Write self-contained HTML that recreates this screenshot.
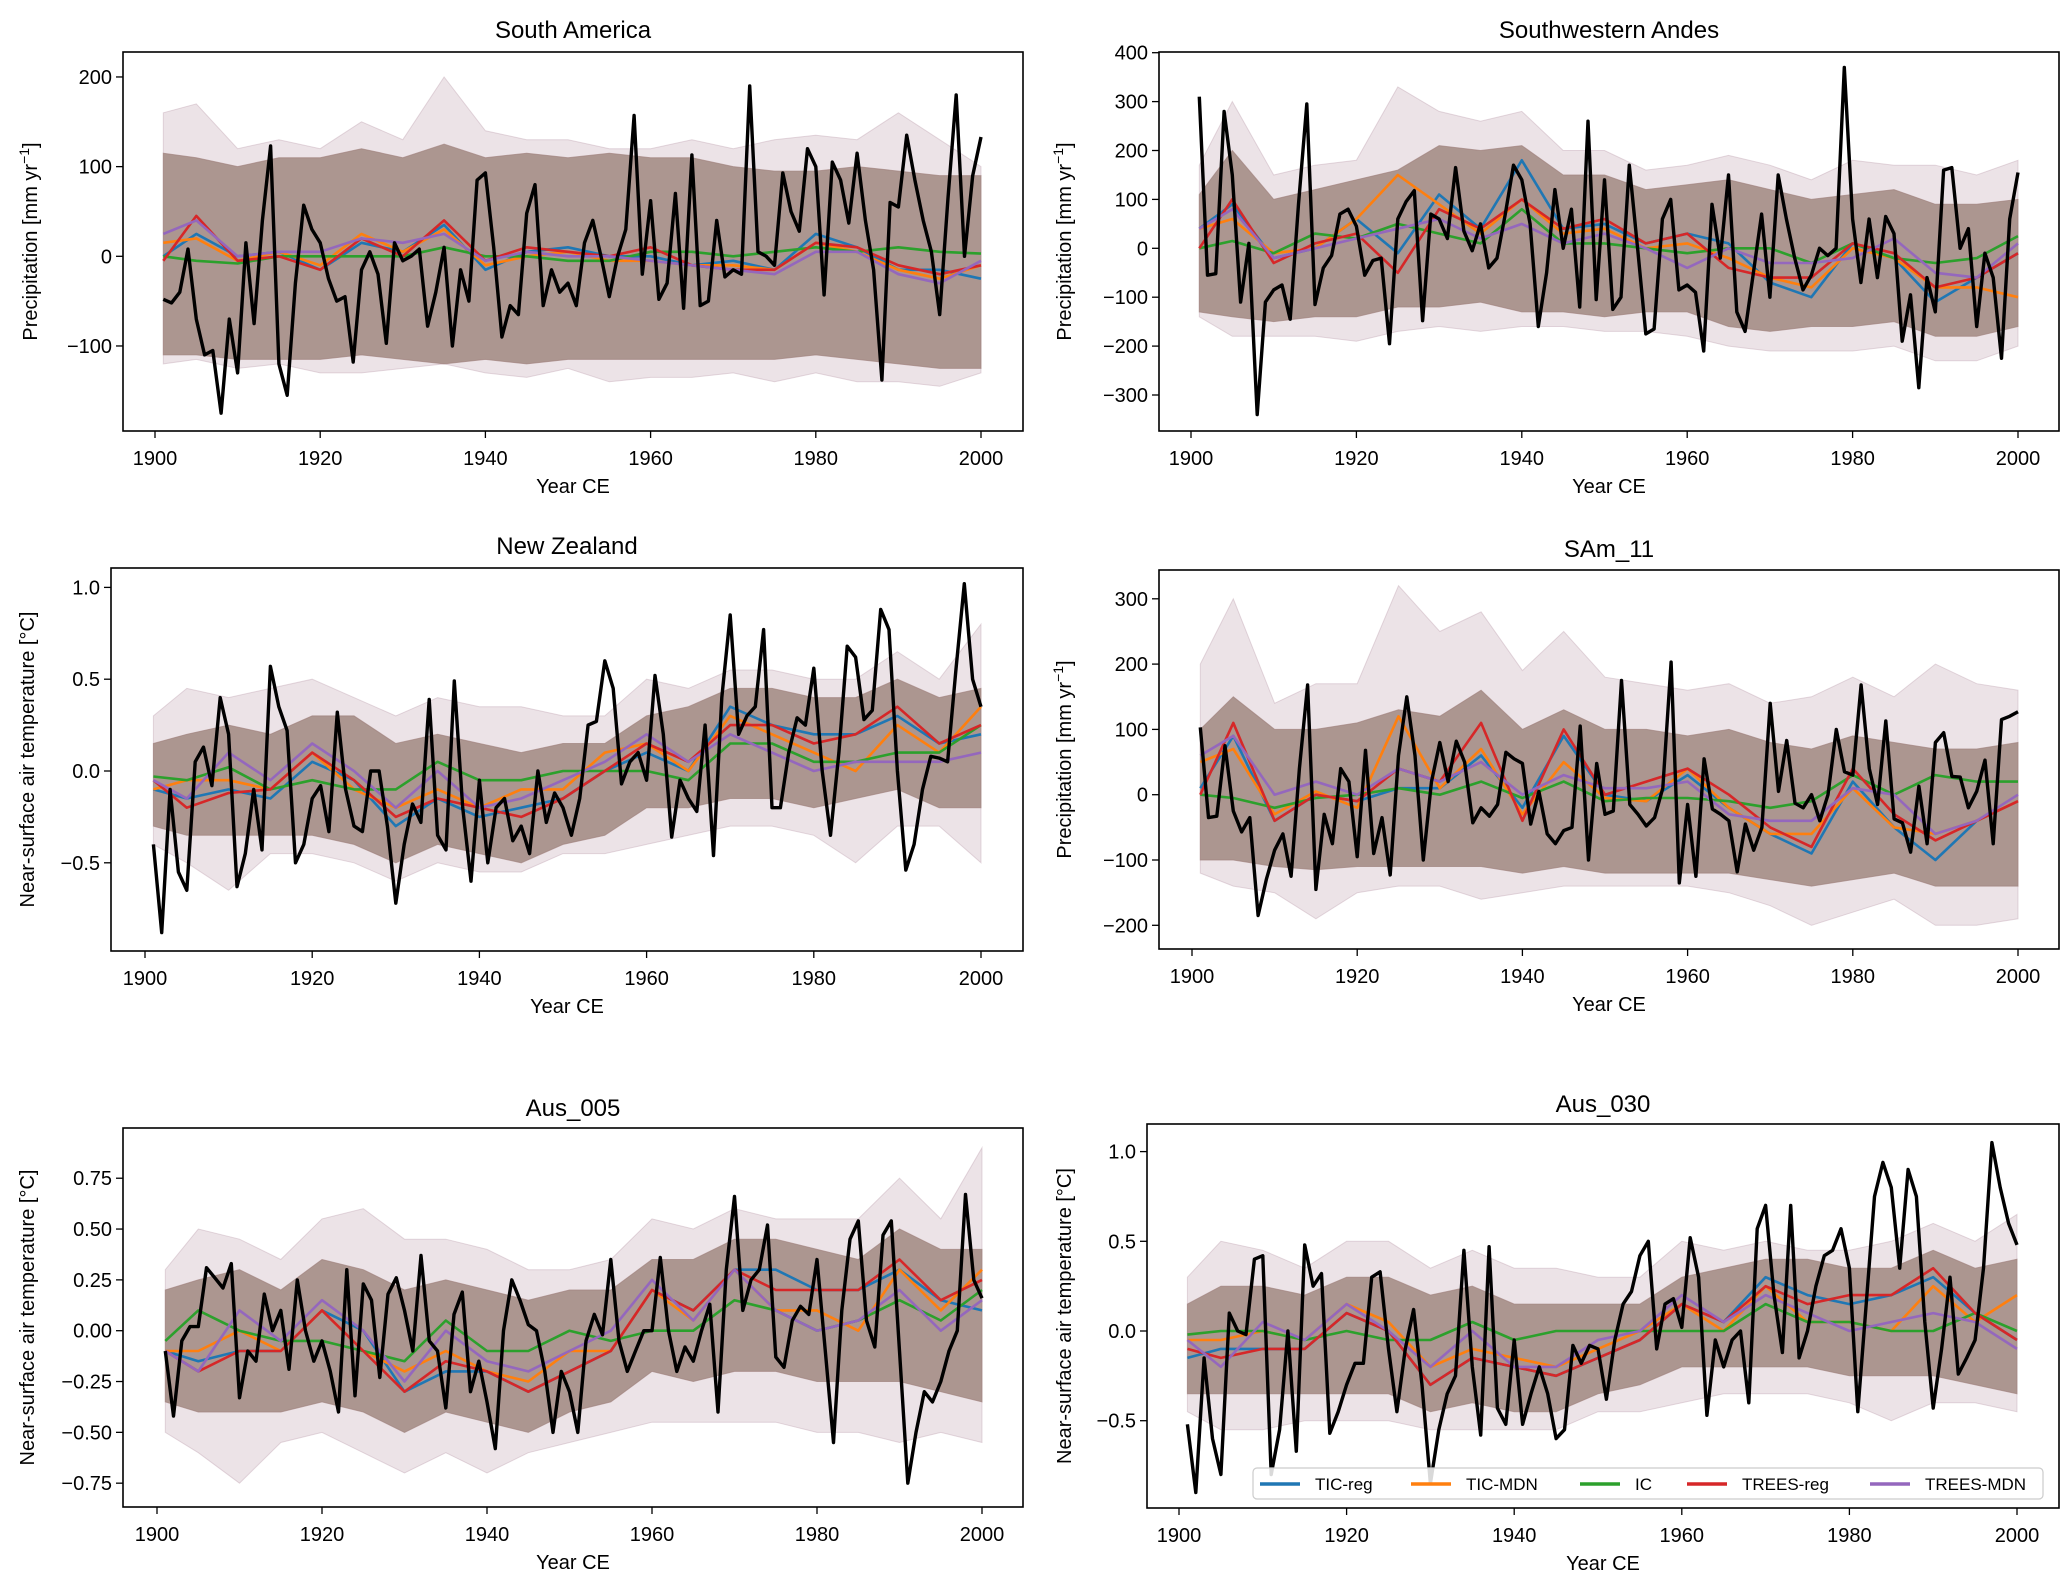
<!DOCTYPE html>
<html><head><meta charset="utf-8">
<style>
html,body{margin:0;padding:0;background:#fff;}
svg{display:block;font-family:"Liberation Sans",Arial,sans-serif;}
</style></head>
<body>
<svg id="fig" width="2067" height="1590" viewBox="0 0 2067 1590" xmlns="http://www.w3.org/2000/svg"></svg>
<script>
// ---------- data ----------
const years = [];
for (let y = 1901; y <= 2000; y++) years.push(y);
const coarseYears = [1901,1905,1910,1915,1920,1925,1930,1935,1940,1945,1950,1955,1960,1965,1970,1975,1980,1985,1990,1995,2000];
const seriesNames = ["TIC-reg","TIC-MDN","IC","TREES-reg","TREES-MDN"];
const seriesColors = ["#1f77b4","#ff7f0e","#2ca02c","#d62728","#9467bd"];

const titles = ["South America","Southwestern Andes","New Zealand","SAm_11","Aus_005","Aus_030"];
const yLabels = ["precip","precip","temp","precip","temp","temp"];
const yTicks = [
  [-100,0,100,200],
  [-300,-200,-100,0,100,200,300,400],
  [-0.5,0,0.5,1.0],
  [-200,-100,0,100,200,300],
  [-0.75,-0.5,-0.25,0,0.25,0.5,0.75],
  [-0.5,0,0.5,1.0]
];
const yTickLabels = [
  ["\u2212100","0","100","200"],
  ["\u2212300","\u2212200","\u2212100","0","100","200","300","400"],
  ["\u22120.5","0.0","0.5","1.0"],
  ["\u2212200","\u2212100","0","100","200","300"],
  ["\u22120.75","\u22120.50","\u22120.25","0.00","0.25","0.50","0.75"],
  ["\u22120.5","0.0","0.5","1.0"]
];
const xTicks = [1900,1920,1940,1960,1980,2000];

// observed (black) series
const obs0 = [-48,-52,-40,8,-70,-110,-105,-175,-70,-130,15,-75,40,123,-120,-155,-30,57,30,15,-25,-50,-45,-118,-15,5,-20,-97,15,-5,0,8,-78,-40,10,-100,-15,-50,85,93,10,-90,-55,-65,48,80,-55,-15,-40,-30,-55,15,40,0,-45,0,30,157,-20,62,-48,-30,70,-58,113,-55,-50,40,-23,-15,-20,190,5,0,-10,93,50,28,120,100,-43,105,85,37,115,40,-15,-138,60,55,135,85,40,5,-65,65,180,0,90,133];
const obs1 = [310,-55,-52,280,150,-110,10,-340,-110,-85,-75,-145,90,295,-115,-40,-15,70,80,45,-55,-25,-20,-195,60,95,118,-148,70,60,20,165,35,-5,50,-40,-20,70,170,140,50,-160,-50,120,0,80,-120,260,-105,140,-125,-100,170,0,-175,-165,60,100,-85,-75,-90,-210,90,-20,150,-130,-170,-50,70,-100,150,60,-20,-85,-55,0,-15,0,370,60,-70,60,-60,65,30,-190,-95,-285,-60,-130,160,165,0,40,-160,-10,-60,-225,60,155];
const obs2 = [-0.4,-0.88,-0.1,-0.55,-0.65,0.05,0.13,-0.08,0.4,0.2,-0.63,-0.45,-0.1,-0.43,0.57,0.35,0.22,-0.5,-0.4,-0.15,-0.08,-0.33,0.32,-0.1,-0.3,-0.33,0.0,0.0,-0.3,-0.72,-0.4,-0.18,-0.28,0.39,-0.35,-0.43,0.49,-0.2,-0.6,-0.05,-0.5,-0.2,-0.15,-0.38,-0.3,-0.45,0.0,-0.28,-0.12,-0.2,-0.35,-0.15,0.25,0.27,0.6,0.45,-0.07,0.05,0.1,-0.05,0.52,0.2,-0.36,-0.05,-0.15,-0.22,0.25,-0.46,0.4,0.85,0.2,0.3,0.35,0.77,-0.2,-0.2,0.1,0.29,0.25,0.56,0.0,-0.35,0.1,0.68,0.62,0.28,0.33,0.88,0.77,0.0,-0.54,-0.4,-0.1,0.08,0.07,0.05,0.55,1.02,0.5,0.35];
const obs3 = [103,-35,-33,75,-25,-57,-35,-185,-130,-85,-60,-125,40,168,-145,-30,-75,40,20,-95,68,-90,-35,-123,60,150,60,-100,20,80,20,82,50,-43,-20,-33,-15,65,55,48,-45,5,-60,-75,-55,-50,105,-100,48,-30,-25,175,-15,-30,-48,-35,10,203,-135,-15,-125,55,-22,-30,-40,-118,-45,-85,-50,140,5,83,-13,-20,0,-40,0,100,35,30,168,40,-15,113,-37,-43,-88,13,-75,80,95,28,27,-20,5,53,-75,115,120,127];
const obs4 = [-0.1,-0.42,-0.05,0.02,0.02,0.31,0.26,0.21,0.33,-0.33,-0.1,-0.15,0.18,0.0,0.1,-0.19,0.25,0.0,-0.15,-0.05,-0.2,-0.4,0.3,-0.32,0.23,0.15,-0.23,0.18,0.26,0.1,-0.1,0.37,-0.05,-0.1,-0.38,0.08,0.19,-0.3,-0.15,-0.35,-0.58,0.0,0.25,0.15,0.03,0.0,-0.2,-0.5,-0.2,-0.3,-0.5,-0.05,0.08,-0.02,0.35,-0.05,-0.2,-0.1,0.0,0.0,0.36,0.0,-0.2,-0.08,-0.15,0.0,0.13,-0.4,0.3,0.66,0.1,0.25,0.3,0.52,-0.13,-0.18,0.05,0.12,0.08,0.35,-0.1,-0.55,0.1,0.45,0.54,0.05,-0.08,0.47,0.54,-0.1,-0.75,-0.5,-0.3,-0.35,-0.25,-0.1,0.0,0.67,0.25,0.16];
const obs5 = [-0.52,-0.9,-0.15,-0.6,-0.8,0.1,0.0,-0.02,0.4,0.42,-0.8,-0.55,0.0,-0.67,0.48,0.25,0.32,-0.57,-0.45,-0.3,-0.18,-0.18,0.3,0.33,-0.1,-0.45,-0.1,0.12,-0.3,-0.85,-0.55,-0.35,-0.25,0.45,-0.2,-0.58,0.47,-0.43,-0.52,-0.05,-0.52,-0.35,-0.2,-0.35,-0.6,-0.55,-0.08,-0.18,-0.08,-0.1,-0.38,-0.05,0.15,0.22,0.42,0.5,-0.1,0.15,0.18,0.02,0.52,0.3,-0.47,-0.05,-0.2,-0.05,0.0,-0.4,0.57,0.7,0.2,-0.12,0.7,-0.15,0.0,0.25,0.42,0.45,0.57,0.35,-0.45,0.15,0.75,0.94,0.8,0.35,0.9,0.75,0.05,-0.43,-0.1,0.3,-0.24,-0.15,-0.05,0.35,1.05,0.8,0.6,0.48];
const observed = [obs0,obs1,obs2,obs3,obs4,obs5];

// reconstruction means (TIC-reg, TIC-MDN, IC, TREES-reg, TREES-MDN)
const p0Blue=[0,25,0,5,-15,15,5,35,-15,5,10,0,0,-10,-5,-15,25,10,-15,-15,-25];
const p0Orange=[15,20,-5,5,-10,25,5,30,-10,0,5,-5,-5,-10,-10,-15,15,5,-15,-25,-10];
const p0Green=[0,-5,-8,0,0,0,0,10,0,0,-5,-5,5,5,0,5,10,5,10,5,3];
const p0Red=[-5,45,-5,0,-15,20,0,40,-5,10,5,0,10,-10,-15,-15,15,10,-10,-20,-10];
const p0Purple=[25,40,0,5,5,20,15,25,-5,5,0,0,-5,-10,-15,-20,5,5,-20,-30,-5];

const p1Blue=[40,90,-20,0,60,-10,110,40,180,40,50,10,30,10,-70,-100,10,-20,-110,-60,-10];
const p1Orange=[40,60,-10,0,60,150,90,30,100,30,40,0,10,-20,-60,-80,0,-20,-80,-80,-100];
const p1Green=[0,15,-10,30,20,50,30,10,80,10,10,0,-10,0,0,-30,10,-20,-30,-20,25];
const p1Red=[0,100,-30,10,30,-50,80,40,100,40,60,10,30,-40,-60,-60,10,-10,-80,-60,-10];
const p1Purple=[40,80,-20,0,20,40,60,20,50,10,30,0,-40,0,-30,-30,-20,20,-50,-60,10];

const p2Blue=[-0.1,-0.15,-0.1,-0.15,0.05,-0.05,-0.3,-0.15,-0.25,-0.2,-0.15,0.0,0.1,0.0,0.35,0.25,0.2,0.2,0.3,0.15,0.2];
const p2Orange=[-0.1,-0.05,-0.05,-0.1,0.1,-0.1,-0.2,-0.1,-0.2,-0.1,-0.1,0.1,0.15,0.0,0.3,0.2,0.1,0.0,0.25,0.1,0.35];
const p2Green=[-0.03,-0.05,0.02,-0.1,-0.05,-0.1,-0.1,0.05,-0.05,-0.05,0.0,0.0,0.0,-0.05,0.15,0.15,0.05,0.05,0.1,0.1,0.25];
const p2Red=[-0.05,-0.2,-0.12,-0.1,0.1,-0.05,-0.25,-0.15,-0.2,-0.25,-0.15,0.0,0.15,0.05,0.25,0.25,0.15,0.2,0.35,0.15,0.25];
const p2Purple=[-0.05,-0.15,0.1,-0.05,0.15,0.0,-0.2,0.0,-0.2,-0.15,-0.05,0.05,0.2,0.05,0.2,0.1,0.0,0.05,0.05,0.05,0.1];

const p3Blue=[10,90,-40,0,-10,10,10,60,-20,90,0,-10,30,-20,-60,-90,20,-50,-100,-40,-10];
const p3Orange=[50,70,-30,5,-20,120,10,70,-30,50,-5,-10,40,-20,-60,-60,10,-50,-60,-40,-10];
const p3Green=[0,-5,-20,-5,0,10,0,20,-5,20,-10,-5,-5,-10,-20,-10,30,0,30,20,20];
const p3Red=[0,110,-40,0,-10,40,20,110,-40,100,0,20,40,0,-50,-80,40,-30,-70,-40,-10];
const p3Purple=[60,90,0,20,0,40,20,50,0,30,10,10,20,-30,-40,-40,10,0,-60,-40,0];

const p4Blue=[-0.1,-0.15,-0.1,-0.1,0.1,0.0,-0.3,-0.2,-0.2,-0.3,-0.2,-0.1,0.2,0.1,0.3,0.3,0.2,0.2,0.3,0.15,0.1];
const p4Orange=[-0.1,-0.1,0.0,-0.1,0.1,-0.1,-0.2,-0.1,-0.2,-0.25,-0.1,-0.1,0.2,0.05,0.3,0.1,0.1,0.0,0.3,0.1,0.3];
const p4Green=[-0.05,0.1,0.0,-0.05,-0.05,-0.1,-0.15,0.05,-0.1,-0.1,0.0,-0.05,0.0,0.0,0.15,0.1,0.0,0.05,0.15,0.05,0.2];
const p4Red=[-0.1,-0.2,-0.1,-0.1,0.1,-0.1,-0.3,-0.15,-0.2,-0.3,-0.2,-0.1,0.2,0.1,0.3,0.2,0.2,0.2,0.35,0.15,0.25];
const p4Purple=[-0.1,-0.2,0.1,-0.05,0.15,0.0,-0.25,0.0,-0.15,-0.2,-0.1,0.0,0.25,0.05,0.3,0.1,0.0,0.05,0.2,0.0,0.15];

const p5Blue=[-0.15,-0.1,-0.1,-0.1,0.1,0.0,-0.3,-0.15,-0.2,-0.25,-0.15,-0.05,0.15,0.05,0.3,0.2,0.15,0.2,0.3,0.1,-0.05];
const p5Orange=[-0.05,-0.05,0.0,-0.05,0.15,0.05,-0.2,-0.1,-0.15,-0.2,-0.1,0.0,0.15,0.0,0.25,0.05,0.05,0.0,0.25,0.05,0.2];
const p5Green=[-0.02,0.0,0.0,-0.05,0.0,-0.05,-0.05,0.05,-0.05,0.0,0.0,0.0,0.0,0.0,0.15,0.05,0.05,0.0,0.0,0.1,0.0];
const p5Red=[-0.1,-0.15,-0.1,-0.1,0.1,0.0,-0.3,-0.15,-0.2,-0.25,-0.15,-0.05,0.15,0.05,0.25,0.15,0.2,0.2,0.35,0.1,-0.05];
const p5Purple=[-0.05,-0.2,0.05,-0.05,0.15,0.0,-0.2,0.0,-0.2,-0.2,-0.05,0.0,0.2,0.05,0.2,0.1,0.0,0.05,0.1,0.05,-0.1];

const means = [
  [p0Blue,p0Orange,p0Green,p0Red,p0Purple],
  [p1Blue,p1Orange,p1Green,p1Red,p1Purple],
  [p2Blue,p2Orange,p2Green,p2Red,p2Purple],
  [p3Blue,p3Orange,p3Green,p3Red,p3Purple],
  [p4Blue,p4Orange,p4Green,p4Red,p4Purple],
  [p5Blue,p5Orange,p5Green,p5Red,p5Purple]
];

// uncertainty envelopes
const coreUpper = [
  [115,110,100,110,110,120,110,125,110,115,110,115,110,110,100,95,95,100,95,90,90],
  [110,200,100,120,140,160,210,200,210,150,150,120,130,140,120,100,110,120,90,90,100],
  [0.15,0.2,0.25,0.2,0.3,0.3,0.15,0.2,0.15,0.1,0.15,0.15,0.3,0.35,0.45,0.45,0.4,0.4,0.5,0.4,0.45],
  [100,150,100,100,110,130,120,160,100,130,100,100,90,100,80,70,90,80,70,70,80],
  [0.2,0.25,0.3,0.2,0.35,0.3,0.2,0.25,0.2,0.15,0.2,0.2,0.35,0.35,0.45,0.45,0.4,0.35,0.5,0.4,0.4],
  [0.15,0.25,0.25,0.2,0.3,0.3,0.2,0.25,0.15,0.15,0.15,0.15,0.3,0.35,0.4,0.4,0.35,0.35,0.45,0.35,0.4]
];
const coreLower = [
  [-110,-110,-115,-115,-115,-110,-115,-120,-115,-120,-115,-115,-115,-115,-115,-115,-110,-115,-120,-125,-125],
  [-130,-140,-150,-140,-140,-120,-120,-110,-130,-130,-140,-130,-130,-160,-170,-160,-160,-150,-180,-180,-160],
  [-0.3,-0.35,-0.35,-0.35,-0.35,-0.4,-0.5,-0.4,-0.45,-0.5,-0.4,-0.35,-0.2,-0.2,-0.15,-0.15,-0.2,-0.15,-0.1,-0.2,-0.2],
  [-100,-100,-110,-115,-110,-110,-110,-110,-120,-110,-120,-120,-120,-120,-130,-140,-130,-120,-140,-140,-140],
  [-0.35,-0.4,-0.4,-0.4,-0.35,-0.4,-0.5,-0.4,-0.45,-0.5,-0.4,-0.35,-0.2,-0.25,-0.2,-0.2,-0.25,-0.25,-0.25,-0.3,-0.35],
  [-0.35,-0.35,-0.35,-0.35,-0.35,-0.35,-0.45,-0.4,-0.45,-0.45,-0.35,-0.3,-0.2,-0.2,-0.2,-0.2,-0.25,-0.25,-0.25,-0.3,-0.35]
];
const outerUpper = [
  [160,170,120,130,120,150,130,200,140,130,130,120,120,130,120,130,135,130,160,130,100],
  [170,300,150,170,180,330,280,260,280,200,200,160,170,190,170,140,180,170,170,150,180],
  [0.3,0.45,0.4,0.45,0.5,0.4,0.3,0.4,0.35,0.35,0.3,0.3,0.5,0.45,0.55,0.55,0.5,0.5,0.65,0.5,0.8],
  [200,300,140,170,170,320,250,280,190,250,180,170,160,170,140,150,180,150,200,170,160],
  [0.3,0.5,0.45,0.35,0.55,0.6,0.45,0.45,0.4,0.3,0.3,0.35,0.55,0.5,0.6,0.55,0.55,0.55,0.75,0.55,0.9],
  [0.3,0.5,0.45,0.35,0.5,0.5,0.35,0.45,0.35,0.35,0.3,0.3,0.5,0.45,0.5,0.45,0.45,0.5,0.6,0.5,0.65]
];
const outerLower = [
  [-120,-115,-125,-120,-130,-130,-125,-120,-130,-135,-125,-140,-135,-135,-130,-140,-130,-140,-140,-145,-130],
  [-140,-180,-180,-180,-190,-170,-160,-170,-160,-160,-170,-170,-180,-200,-210,-210,-210,-200,-230,-230,-200],
  [-0.4,-0.5,-0.65,-0.45,-0.45,-0.5,-0.6,-0.5,-0.55,-0.55,-0.45,-0.45,-0.4,-0.35,-0.3,-0.3,-0.35,-0.5,-0.3,-0.3,-0.5],
  [-120,-140,-150,-190,-150,-140,-140,-160,-150,-140,-140,-140,-140,-150,-170,-200,-180,-160,-200,-200,-190],
  [-0.5,-0.6,-0.75,-0.55,-0.5,-0.6,-0.7,-0.6,-0.7,-0.6,-0.55,-0.5,-0.45,-0.45,-0.45,-0.45,-0.5,-0.5,-0.55,-0.5,-0.55],
  [-0.45,-0.55,-0.55,-0.5,-0.5,-0.5,-0.55,-0.55,-0.55,-0.55,-0.45,-0.45,-0.4,-0.35,-0.35,-0.35,-0.4,-0.5,-0.4,-0.4,-0.45]
];

// ---------- layout (pixel geometry; not data) ----------
const layout = [
  {L:123,T:52,R:1023,B:431,x0:155,x1:981,yz:256.3,ys:0.8967,ylx:30,tY:38},
  {L:1159,T:52,R:2059,B:431,x0:1191,x1:2018,yz:248.3,ys:0.489,ylx:1064,tY:38},
  {L:111,T:568,R:1023,B:951,x0:145,x1:981,yz:771,ys:183.6,ylx:27,tY:554},
  {L:1159,T:570,R:2059,B:949,x0:1192,x1:2018,yz:794.7,ys:0.653,ylx:1064,tY:557},
  {L:123,T:1128,R:1023,B:1507,x0:157,x1:982,yz:1330.7,ys:203.3,ylx:27,tY:1116},
  {L:1147,T:1124,R:2059,B:1508,x0:1179,x1:2017,yz:1331,ys:179.4,ylx:1064,tY:1112}
];

const NS = "http://www.w3.org/2000/svg";
const fig = document.getElementById("fig");
function mk(tag, attrs, parent){
  const e = document.createElementNS(NS, tag);
  for (const k in attrs) e.setAttribute(k, attrs[k]);
  (parent||fig).appendChild(e);
  return e;
}

layout.forEach((g, p) => {
  const xs = v => g.x0 + (v - 1900) * (g.x1 - g.x0) / 100;
  const ys = v => g.yz - v * g.ys;
  const grp = mk("g", {});
  
  
  const clipId = "clip" + p;
  const cp = mk("clipPath", {id: clipId}, grp);
  mk("rect", {x:g.L, y:g.T, width:g.R-g.L, height:g.B-g.T}, cp);
  const plot = mk("g", {"clip-path": "url(#" + clipId + ")"}, grp);

  const bandPath = (up, lo) => {
    let d = "";
    coarseYears.forEach((y,i) => { d += (i?"L":"M") + xs(y).toFixed(1) + "," + ys(up[i]).toFixed(1); });
    for (let i = coarseYears.length-1; i >= 0; i--) d += "L" + xs(coarseYears[i]).toFixed(1) + "," + ys(lo[i]).toFixed(1);
    return d + "Z";
  };
  const outer = mk("path", {d: bandPath(outerUpper[p], outerLower[p]), fill:"rgba(200,175,185,0.35)", stroke:"rgba(190,160,175,0.4)", "stroke-width":1}, plot);
  
  
  const core = mk("path", {d: bandPath(coreUpper[p], coreLower[p]), fill:"rgb(172,150,144)", stroke:"rgba(160,130,125,0.7)", "stroke-width":1}, plot);
  
  

  means[p].forEach((arr, s) => {
    const pts = coarseYears.map((y,i) => xs(y).toFixed(1) + "," + ys(arr[i]).toFixed(1)).join(" ");
    const pl = mk("polyline", {points: pts, fill:"none", stroke: seriesColors[s], "stroke-width":2.6, "stroke-linejoin":"round"}, plot);
    
    
  });
  const obsPts = years.map((y,i) => xs(y).toFixed(1) + "," + ys(observed[p][i]).toFixed(1)).join(" ");
  const ol = mk("polyline", {points: obsPts, fill:"none", stroke:"#000", "stroke-width":3.4, "stroke-linejoin":"round"}, plot);
  
  

  const frame = mk("rect", {x:g.L, y:g.T, width:g.R-g.L, height:g.B-g.T, fill:"none", stroke:"#000", "stroke-width":1.6}, grp);
  
  

  xTicks.forEach(t => {
    const x = xs(t);
    mk("line", {x1:x, y1:g.B, x2:x, y2:g.B+7, stroke:"#000", "stroke-width":1.3}, grp);
    const tl = mk("text", {x:x, y:g.B+34, "font-size":20, "text-anchor":"middle", fill:"#000"}, grp);
    tl.textContent = t;
    
    
  });
  yTicks[p].forEach((t,i) => {
    const y = ys(t);
    mk("line", {x1:g.L-7, y1:y, x2:g.L, y2:y, stroke:"#000", "stroke-width":1.3}, grp);
    const tl = mk("text", {x:g.L-11, y:y+7, "font-size":20, "text-anchor":"end", fill:"#000"}, grp);
    tl.textContent = yTickLabels[p][i];
    
    
  });

  const title = mk("text", {x:(g.L+g.R)/2, y:g.tY, "font-size":24, "text-anchor":"middle", fill:"#000"}, grp);
  title.textContent = titles[p];
  
  

  const xl = mk("text", {x:(g.L+g.R)/2, y:g.B+62, "font-size":20, "text-anchor":"middle", fill:"#000"}, grp);
  xl.textContent = "Year CE";
  
  

  const cy = (g.T+g.B)/2;
  const yl = mk("text", {x:g.ylx, y:cy, "font-size":20, "text-anchor":"middle", fill:"#000", transform:"rotate(-90 "+g.ylx+" "+cy+")", dy:"7"}, grp);
  if (yLabels[p] === "precip") {
    yl.textContent = "Precipitation [mm yr";
    const sup = mk("tspan", {"baseline-shift":"super", "font-size":14}, yl);
    sup.textContent = "\u22121";
    const end = mk("tspan", {}, yl);
    end.textContent = "]";
  } else {
    yl.textContent = "Near-surface air temperature [\u00B0C]";
  }
  
  
});

// legend (in Aus_030 panel)
const leg = mk("g", {});


mk("rect", {x:1253, y:1468, width:790, height:31, rx:4, fill:"rgba(255,255,255,0.85)", stroke:"#ccc", "stroke-width":1.2}, leg);
const legLineX = [1260,1411,1580,1687,1870];
legLineX.forEach((lx, s) => {
  const ln = mk("line", {x1:lx, y1:1484, x2:lx+40, y2:1484, stroke:seriesColors[s], "stroke-width":3.5}, leg);
  
  
  const t = mk("text", {x:lx+55, y:1490, "font-size":17, fill:"#000"}, leg);
  t.textContent = seriesNames[s];
  
  
});
</script>
</body></html>
